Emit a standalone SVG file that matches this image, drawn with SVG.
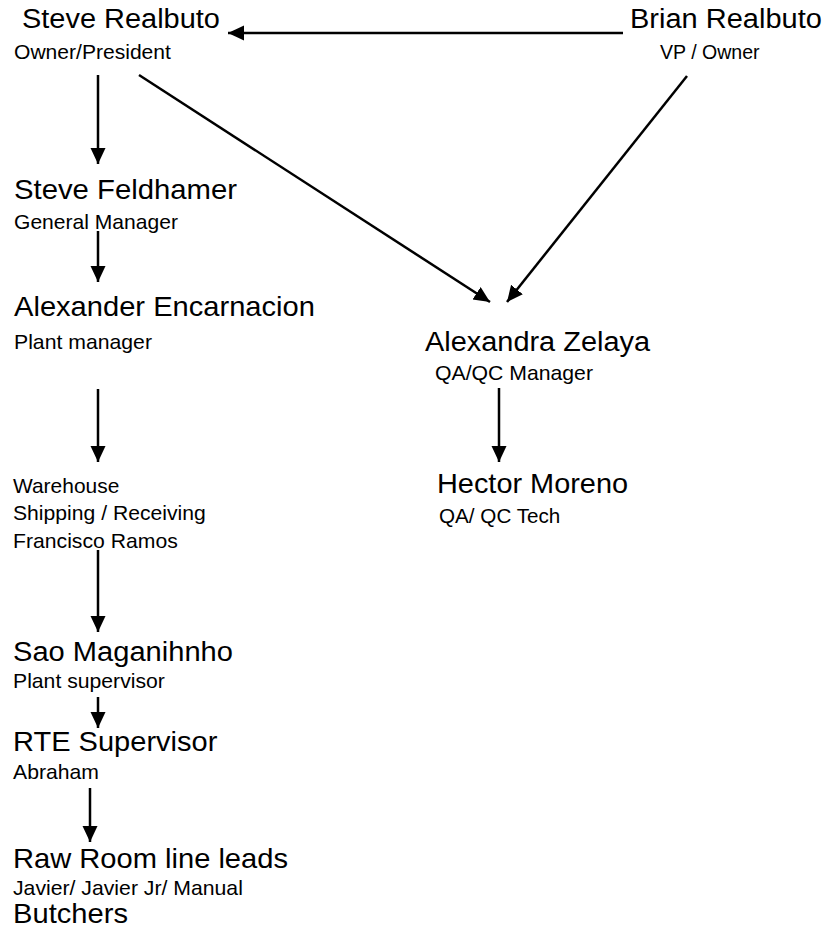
<svg xmlns="http://www.w3.org/2000/svg" width="828" height="934" viewBox="0 0 828 934">
<style>
text{font-family:"Liberation Sans",Arial,sans-serif;fill:#000}
.b{font-size:28px}
.s{font-size:20px}
.c{stroke:#000;stroke-width:2.5;fill:none}
</style>
<defs>
<marker id="ah" markerUnits="userSpaceOnUse" markerWidth="17" markerHeight="16" refX="16" refY="7.5" orient="auto">
<path d="M0,0 L16,7.5 L0,15 z" fill="#000"/>
</marker>
</defs>
<rect width="828" height="934" fill="#fff"/>
<g id="connectors">
<line class="c" x1="623" y1="33" x2="228" y2="33" marker-end="url(#ah)"/>
<line class="c" x1="98" y1="75" x2="98" y2="164" marker-end="url(#ah)"/>
<line class="c" x1="139" y1="75" x2="490" y2="302" marker-end="url(#ah)"/>
<line class="c" x1="687" y1="76" x2="507" y2="302" marker-end="url(#ah)"/>
<line class="c" x1="98" y1="231" x2="98" y2="282" marker-end="url(#ah)"/>
<line class="c" x1="98" y1="389" x2="98" y2="462" marker-end="url(#ah)"/>
<line class="c" x1="98" y1="550" x2="98" y2="632" marker-end="url(#ah)"/>
<line class="c" x1="98" y1="697" x2="98" y2="728" marker-end="url(#ah)"/>
<line class="c" x1="90" y1="788" x2="90" y2="842" marker-end="url(#ah)"/>
<line class="c" x1="499" y1="388" x2="499" y2="462" marker-end="url(#ah)"/>
</g>
<g id="steve-realbuto">
<text class="b" transform="translate(22 28) scale(1.034 1)">Steve Realbuto</text>
<text class="s" transform="translate(14 59) scale(1.054 1)">Owner/President</text>
</g>
<g id="brian-realbuto">
<text class="b" transform="translate(630 28) scale(1.036 1)">Brian Realbuto</text>
<text class="s" transform="translate(660 59) scale(0.978 1)">VP / Owner</text>
</g>
<g id="steve-feldhamer">
<text class="b" transform="translate(14 199) scale(1.046 1)">Steve Feldhamer</text>
<text class="s" transform="translate(14 229) scale(1.054 1)">General Manager</text>
</g>
<g id="alexander-encarnacion">
<text class="b" transform="translate(14 316) scale(1.04 1)">Alexander Encarnacion</text>
<text class="s" transform="translate(14 349) scale(1.061 1)">Plant manager</text>
</g>
<g id="alexandra-zelaya">
<text class="b" transform="translate(425 351) scale(1.033 1)">Alexandra Zelaya</text>
<text class="s" transform="translate(435 380) scale(1.061 1)">QA/QC Manager</text>
</g>
<g id="hector-moreno">
<text class="b" transform="translate(437 493) scale(1.032 1)">Hector Moreno</text>
<text class="s" transform="translate(439 523) scale(1.033 1)">QA/ QC Tech</text>
</g>
<g id="warehouse">
<text class="s" transform="translate(13 493) scale(1.047 1)">Warehouse</text>
<text class="s" transform="translate(13 520) scale(1.058 1)">Shipping / Receiving</text>
<text class="s" transform="translate(13 548) scale(1.06 1)">Francisco Ramos</text>
</g>
<g id="sao-maganihnho">
<text class="b" transform="translate(13 661) scale(1.039 1)">Sao Maganihnho</text>
<text class="s" transform="translate(13 688) scale(1.06 1)">Plant supervisor</text>
</g>
<g id="rte-supervisor">
<text class="b" transform="translate(13 751) scale(1.037 1)">RTE Supervisor</text>
<text class="s" transform="translate(13 779) scale(1.06 1)">Abraham</text>
</g>
<g id="raw-room">
<text class="b" transform="translate(13 868) scale(1.04 1)">Raw Room line leads</text>
<text class="s" transform="translate(13 895) scale(1.061 1)">Javier/ Javier Jr/ Manual</text>
<text class="b" transform="translate(13 923) scale(1.041 1)">Butchers</text>
</g>
</svg>
